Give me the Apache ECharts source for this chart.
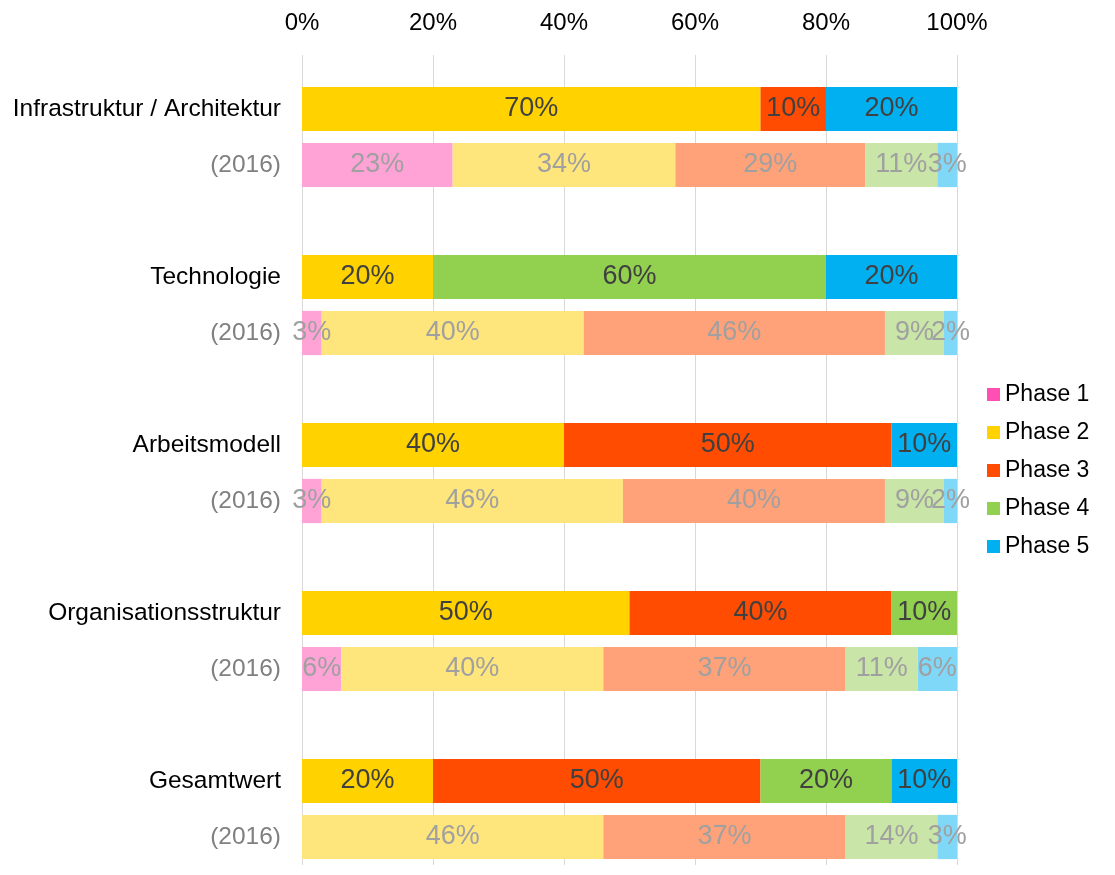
<!DOCTYPE html>
<html>
<head>
<meta charset="utf-8">
<script src="https://cdn.jsdelivr.net/npm/echarts@6/dist/echarts.min.js"></script>
<style>
  html, body { margin: 0; padding: 0; background: #fff; }
  #main { width: 1115px; height: 875px; }
</style>
</head>
<body>
<div id="main"></div>
<script>
// rows top to bottom, blank rows separate the groups
const categories = [
  'Infrastruktur / Architektur', '(2016)', '',
  'Technologie', '(2016)', '',
  'Arbeitsmodell', '(2016)', '',
  'Organisationsstruktur', '(2016)', '',
  'Gesamtwert', '(2016)'
];
const phases = ['Phase 1', 'Phase 2', 'Phase 3', 'Phase 4', 'Phase 5'];
const xTicks = [0, 20, 40, 60, 80, 100];

// current values per group (Infra, Technologie, Arbeitsmodell, Organisation, Gesamt)
const phase1Now = [0, 0, 0, 0, 0];
const phase2Now = [70, 20, 40, 50, 20];
const phase3Now = [10, 0, 50, 40, 50];
const phase4Now = [0, 60, 0, 10, 20];
const phase5Now = [20, 20, 10, 0, 10];

// 2016 values per group
const phase1Old = [23, 3, 3, 6, 0];
const phase2Old = [34, 40, 46, 40, 46];
const phase3Old = [29, 46, 40, 37, 37];
const phase4Old = [11, 9, 9, 11, 14];
const phase5Old = [3, 2, 2, 6, 3];

const colorsNow = ['#FF4FB4', '#FFD200', '#FF4C00', '#92D050', '#00B0F0'];
const colorsOld = ['#FFA3D6', '#FFE67C', '#FFA27A', '#C9E5A8', '#80D8F8'];

const nowData = [phase1Now, phase2Now, phase3Now, phase4Now, phase5Now];
const oldData = [phase1Old, phase2Old, phase3Old, phase4Old, phase5Old];

function buildRows(p) {
  const rows = [];
  for (let g = 0; g < 5; g++) {
    rows.push({
      value: nowData[p][g],
      itemStyle: { color: colorsNow[p] },
      label: { color: '#404040' }
    });
    rows.push({
      value: oldData[p][g],
      itemStyle: { color: colorsOld[p] },
      label: { color: '#A0A0A0' }
    });
    if (g < 4) rows.push('-');
  }
  return rows;
}

const font = 'Liberation Sans, Arial, Helvetica, sans-serif';

const chart = echarts.init(document.getElementById('main'));
const option = {
  animation: false,
  textStyle: { fontFamily: font },
  legend: {
    data: phases,
    orient: 'vertical',
    left: 982,
    top: 378,
    itemWidth: 13,
    itemHeight: 13,
    itemGap: 15,
    icon: 'rect',
    textStyle: { fontSize: 23, color: '#000', fontFamily: font }
  },
  grid: [
    { left: 302, right: 158, top: 81, height: 784 },
    { left: 302, right: 158, top: 55, height: 26 }
  ],
  xAxis: [
    {
      gridIndex: 0,
      type: 'value',
      min: 0, max: 100, interval: 20,
      axisLabel: { show: false },
      axisLine: { show: false },
      axisTick: { show: false },
      splitLine: { lineStyle: { color: '#D9D9D9', width: 1 } }
    },
    {
      gridIndex: 1,
      type: 'value',
      position: 'top',
      min: 0, max: 100, interval: 20,
      axisLabel: {
        formatter: v => xTicks.includes(v) ? v + '%' : '',
        fontSize: 24, color: '#000', margin: 20, fontFamily: font
      },
      axisLine: { show: false },
      axisTick: { show: false },
      splitLine: { lineStyle: { color: '#D9D9D9', width: 1 } }
    }
  ],
  yAxis: [
    {
      gridIndex: 0,
      type: 'category',
      inverse: true,
      data: categories,
      axisLine: { show: false },
      axisTick: { show: false },
      axisLabel: {
        fontSize: 24.5,
        margin: 21,
        fontFamily: font,
        color: (v) => v === '(2016)' ? '#808080' : '#000'
      }
    },
    {
      gridIndex: 1,
      type: 'category',
      data: [],
      show: false
    }
  ],
  series: phases.map((name, p) => ({
    name: name,
    type: 'bar',
    stack: 'total',
    xAxisIndex: 0,
    yAxisIndex: 0,
    barCategoryGap: '21%',
    itemStyle: { color: colorsNow[p] },
    label: {
      show: true,
      position: 'inside',
      fontSize: 27,
      fontFamily: font,
      formatter: (d) => d.value ? d.value + '%' : ''
    },
    data: buildRows(p)
  }))
};
chart.setOption(option);
</script>
</body>
</html>
